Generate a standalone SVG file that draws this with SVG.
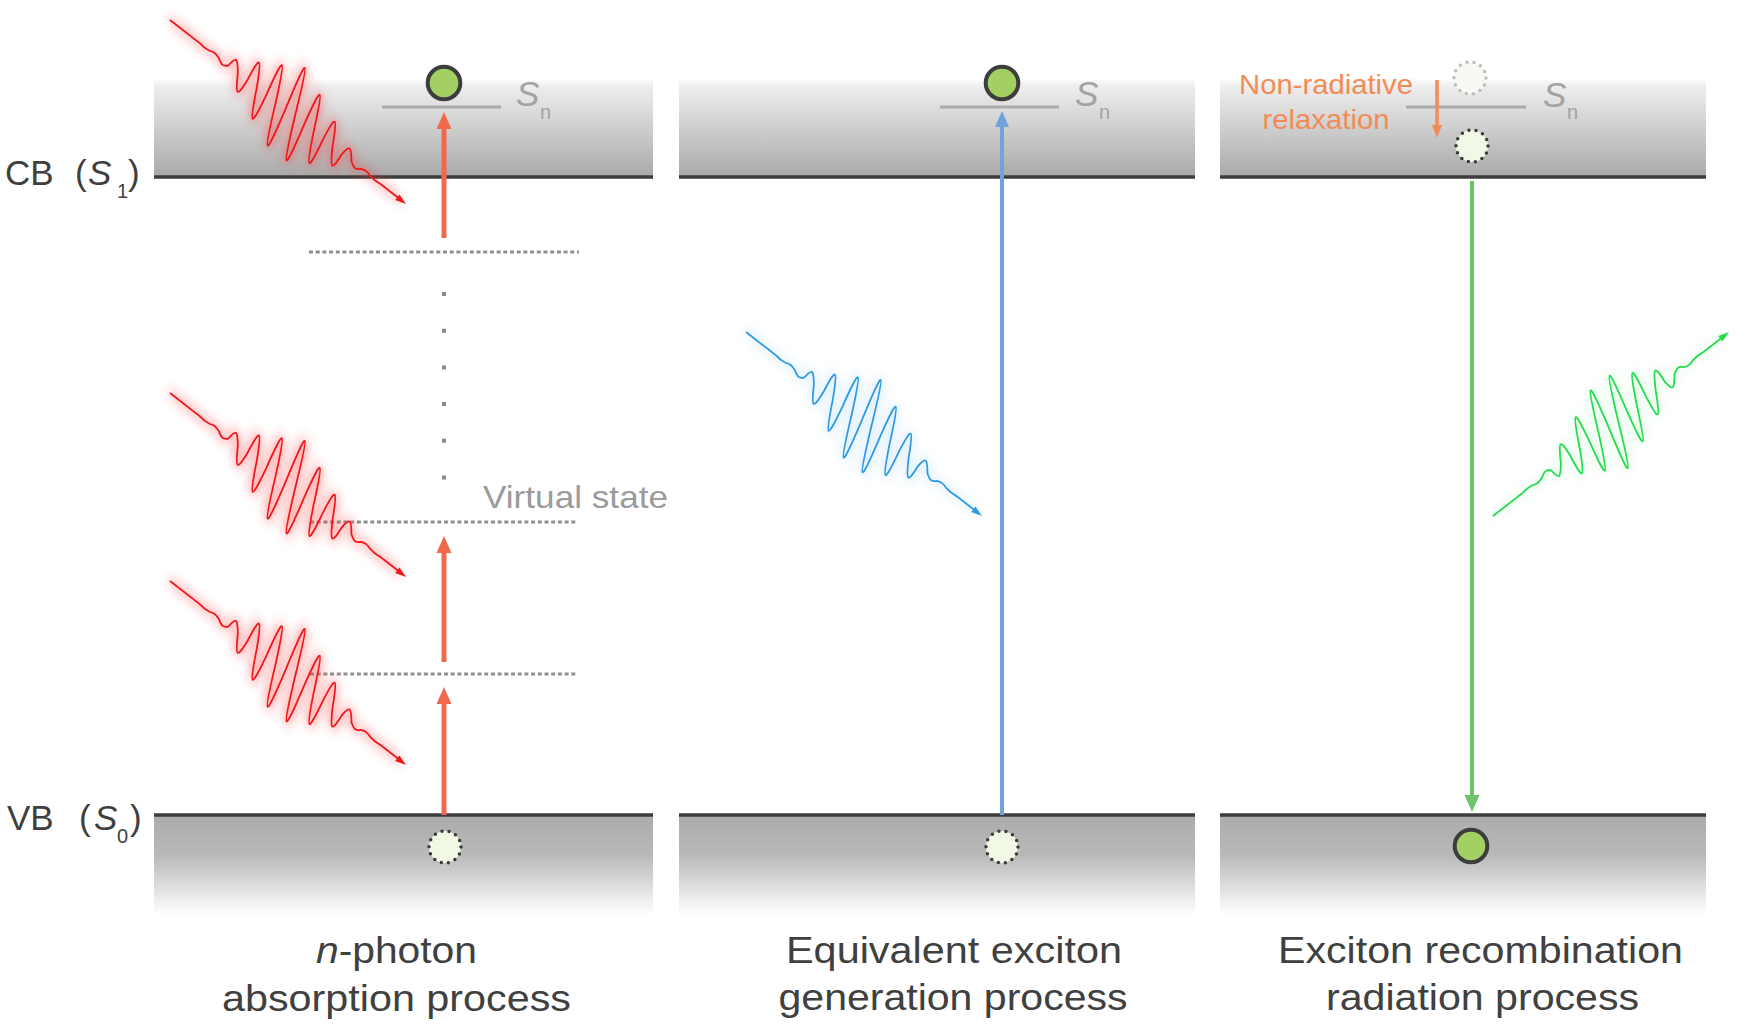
<svg xmlns="http://www.w3.org/2000/svg" width="1741" height="1028" viewBox="0 0 1741 1028">
<style>
  text { font-family: "Liberation Sans", Arial, sans-serif; }
  .lvl { fill:#3f3f3f; font-size:35px; }
  .cap { fill:#404040; font-size:37px; text-anchor:middle; }
  .sn { fill:#a3a3a3; font-size:35px; font-style:italic; }
  .sub { fill:#a3a3a3; font-size:20px; }
  .virtlbl { fill:#9b9b9b; font-size:32px; }
  .orl { fill:#f28c55; font-size:28px; text-anchor:middle; }
  .edge { stroke:#3c3c3c; stroke-width:3.5; }
  .snl { stroke:#ababab; stroke-width:3; }
  .virt { stroke:#8f8f8f; stroke-width:3; stroke-dasharray:4 2.7; fill:none; }
  .vdots { stroke:#8a8a8a; stroke-width:4; stroke-dasharray:4 32.7; }
  .e-solid { fill:#a2d062; stroke:#3d3d3d; stroke-width:4; }
  .e-hole { fill:#f2f8e6; stroke:#3a3a3a; stroke-width:3.5; stroke-dasharray:0 7.18; stroke-linecap:round; }
  .e-ghost { fill:#f7f9f3; stroke:#bdbdbd; stroke-width:3.5; stroke-dasharray:0 7.18; stroke-linecap:round; }
  .wl { fill:none; stroke-width:1.8; }
  .wg { fill:none; stroke-width:6; filter:url(#blur); }
  .red { stroke:#f0694f; }
  .redf { fill:#f0694f; }
</style>
<defs>
  <linearGradient id="gTop" x1="0" y1="0" x2="0" y2="1">
    <stop offset="0" stop-color="#ffffff"/>
    <stop offset="0.08" stop-color="#eeeeee"/>
    <stop offset="1" stop-color="#a9a9a9"/>
  </linearGradient>
  <linearGradient id="gBot" x1="0" y1="0" x2="0" y2="1">
    <stop offset="0" stop-color="#ababab"/>
    <stop offset="0.4" stop-color="#b9b9b9"/>
    <stop offset="1" stop-color="#ffffff"/>
  </linearGradient>
  <filter id="blur" x="-30%" y="-80%" width="160%" height="260%">
    <feGaussianBlur stdDeviation="6"/>
  </filter>
  <path id="wv" vector-effect="non-scaling-stroke" d="M0,0 L38,0 C43.09,1 44.91,1 50,0 C55.09,-2 56.91,-2 62,0 C67.09,4.3 68.91,4.3 74,0 C79.09,-12.8 80.91,-12.8 86,0 C91.09,21.3 92.91,21.3 98,0 C103.09,-29.9 104.91,-29.9 110,0 C115.09,38.4 116.91,38.4 122,0 C127.09,-46.9 128.91,-46.9 134,0 C139.09,55.5 140.91,55.5 146,0 C151.09,-64 152.91,-64 158,0 C163.09,55.5 164.91,55.5 170,0 C175.09,-46.9 176.91,-46.9 182,0 C187.09,38.4 188.91,38.4 194,0 C199.09,-29.9 200.91,-29.9 206,0 C211.09,21.3 212.91,21.3 218,0 C223.09,-12.8 224.91,-12.8 230,0 C235.09,4.3 236.91,4.3 242,0 C247.09,-2 248.91,-2 254,0 C259.09,1 260.91,1 266,0 L292,0"/>
  <path id="ahD" d="M0,0 L-10.83,-4.01 L-6.53,-9.53 Z"/>
  <path id="ahU" d="M0,0 L-6.53,9.53 L-10.83,4.01 Z"/>
</defs>

<rect width="1741" height="1028" fill="#ffffff"/>

<!-- bands -->
<g id="bands">
  <rect x="154" y="78" width="499" height="99" fill="url(#gTop)"/>
  <rect x="679" y="78" width="516" height="99" fill="url(#gTop)"/>
  <rect x="1220" y="78" width="486" height="99" fill="url(#gTop)"/>
  <rect x="154" y="815" width="499" height="100" fill="url(#gBot)"/>
  <rect x="679" y="815" width="516" height="100" fill="url(#gBot)"/>
  <rect x="1220" y="815" width="486" height="100" fill="url(#gBot)"/>
  <line class="edge" x1="154" y1="177" x2="653" y2="177"/>
  <line class="edge" x1="679" y1="177" x2="1195" y2="177"/>
  <line class="edge" x1="1220" y1="177" x2="1706" y2="177"/>
  <line class="edge" x1="154" y1="815" x2="653" y2="815"/>
  <line class="edge" x1="679" y1="815" x2="1195" y2="815"/>
  <line class="edge" x1="1220" y1="815" x2="1706" y2="815"/>
</g>

<!-- Sn levels -->
<g id="sn-levels">
  <line class="snl" x1="382" y1="107" x2="501" y2="107"/>
  <line class="snl" x1="940" y1="107" x2="1059" y2="107"/>
  <line class="snl" x1="1406" y1="107" x2="1526" y2="107"/>
  <text class="sn" x="516" y="106">S</text><text class="sub" x="540" y="119">n</text>
  <text class="sn" x="1075" y="106">S</text><text class="sub" x="1099" y="119">n</text>
  <text class="sn" x="1543" y="107">S</text><text class="sub" x="1567" y="119">n</text>
</g>

<!-- virtual states -->
<g id="virtual-states">
  <line class="virt" x1="309" y1="252" x2="579" y2="252"/>
  <line class="virt" x1="310" y1="522" x2="578" y2="522"/>
  <line class="virt" x1="310" y1="674" x2="578" y2="674"/>
  <line class="vdots" x1="444" y1="292" x2="444" y2="481"/>
  <text class="virtlbl" x="483" y="508" textLength="185" lengthAdjust="spacingAndGlyphs">Virtual state</text>
</g>

<!-- photons -->
<g id="photon-red-1">
  <g transform="matrix(0.789,0.615,-0.31,0.95,170,20)">
    <use href="#wv" class="wg" stroke="#ff3030" opacity="0.45"/>
    <use href="#wv" class="wl" stroke="#f2161c"/>
  </g>
  <use href="#ahD" x="406" y="204" fill="#f2161c"/>
</g>
<g id="photon-red-2">
  <g transform="matrix(0.789,0.615,-0.31,0.95,170,393)">
    <use href="#wv" class="wg" stroke="#ff3030" opacity="0.45"/>
    <use href="#wv" class="wl" stroke="#f2161c"/>
  </g>
  <use href="#ahD" x="406" y="577" fill="#f2161c"/>
</g>
<g id="photon-red-3">
  <g transform="matrix(0.789,0.615,-0.31,0.95,170,581)">
    <use href="#wv" class="wg" stroke="#ff3030" opacity="0.45"/>
    <use href="#wv" class="wl" stroke="#f2161c"/>
  </g>
  <use href="#ahD" x="406" y="765" fill="#f2161c"/>
</g>
<g id="photon-blue">
  <g transform="matrix(0.789,0.615,-0.31,0.95,746,332)">
    <use href="#wv" class="wg" stroke="#4aaeea" opacity="0.2"/>
    <use href="#wv" class="wl" stroke="#2f9ae3"/>
  </g>
  <use href="#ahD" x="982" y="516" fill="#2f9ae3"/>
</g>
<g id="photon-green">
  <g transform="matrix(0.789,-0.615,-0.31,-0.95,1493,516)">
    <use href="#wv" class="wg" stroke="#5fe07a" opacity="0.14"/>
    <use href="#wv" class="wl" stroke="#22dd4c"/>
  </g>
  <use href="#ahU" x="1729" y="332" fill="#22dd4c"/>
</g>

<!-- transitions -->
<g id="connectors">
  <line class="red" x1="444" y1="815" x2="444" y2="702" stroke-width="5"/>
  <polygon class="redf" points="444,687 436.5,704 451.5,704"/>
  <line class="red" x1="444" y1="662" x2="444" y2="550" stroke-width="5"/>
  <polygon class="redf" points="444,536 436.5,553 451.5,553"/>
  <line class="red" x1="444" y1="238" x2="444" y2="126" stroke-width="5"/>
  <polygon class="redf" points="444,112 436.5,129 451.5,129"/>
  <line x1="1002" y1="815" x2="1002" y2="124" stroke="#70a2dc" stroke-width="4"/>
  <polygon points="1002,111 995,127 1009,127" fill="#70a2dc"/>
  <line x1="1472" y1="181" x2="1472" y2="797" stroke="#6cc36c" stroke-width="4"/>
  <polygon points="1472,812 1464.5,795 1479.5,795" fill="#6cc36c"/>
  <line x1="1437" y1="80" x2="1437" y2="127" stroke="#f38b55" stroke-width="3.5"/>
  <polygon points="1437,138 1432,125 1442,125" fill="#f38b55"/>
</g>

<!-- excitons -->
<g id="exciton-1-top"><circle class="e-solid" cx="444" cy="83" r="16.3"/></g>
<g id="exciton-1-bottom"><circle class="e-hole" cx="445" cy="847" r="16"/></g>
<g id="exciton-2-top"><circle class="e-solid" cx="1002" cy="83" r="16.3"/></g>
<g id="exciton-2-bottom"><circle class="e-hole" cx="1002" cy="847" r="16"/></g>
<g id="exciton-3-ghost"><circle class="e-ghost" cx="1470" cy="78" r="16"/></g>
<g id="exciton-3-relaxed"><circle class="e-hole" cx="1472" cy="146" r="16"/></g>
<g id="exciton-3-bottom"><circle class="e-solid" cx="1471" cy="846" r="16.3"/></g>

<!-- labels -->
<g id="label-cb">
  <text class="lvl" y="185"><tspan x="5">CB</tspan><tspan x="75">(</tspan><tspan x="88" font-style="italic">S</tspan><tspan x="117" y="198" font-size="20">1</tspan><tspan x="128" y="185">)</tspan></text>
</g>
<g id="label-vb">
  <text class="lvl" y="830"><tspan x="7">VB</tspan><tspan x="79">(</tspan><tspan x="94" font-style="italic">S</tspan><tspan x="117" y="843" font-size="20">0</tspan><tspan x="130" y="830">)</tspan></text>
</g>
<g id="label-relax">
  <text class="orl" x="1326" y="94" textLength="174" lengthAdjust="spacingAndGlyphs">Non-radiative</text>
  <text class="orl" x="1326" y="129" textLength="127" lengthAdjust="spacingAndGlyphs">relaxation</text>
</g>
<g id="caption-1">
  <text class="cap" x="396.5" y="963" textLength="161" lengthAdjust="spacingAndGlyphs"><tspan font-style="italic">n</tspan>-photon</text>
  <text class="cap" x="396.5" y="1011" textLength="349" lengthAdjust="spacingAndGlyphs">absorption process</text>
</g>
<g id="caption-2">
  <text class="cap" x="954" y="963" textLength="336" lengthAdjust="spacingAndGlyphs">Equivalent exciton</text>
  <text class="cap" x="953" y="1010" textLength="349" lengthAdjust="spacingAndGlyphs">generation process</text>
</g>
<g id="caption-3">
  <text class="cap" x="1480.5" y="963" textLength="405" lengthAdjust="spacingAndGlyphs">Exciton recombination</text>
  <text class="cap" x="1482.5" y="1010" textLength="313" lengthAdjust="spacingAndGlyphs">radiation process</text>
</g>
</svg>
